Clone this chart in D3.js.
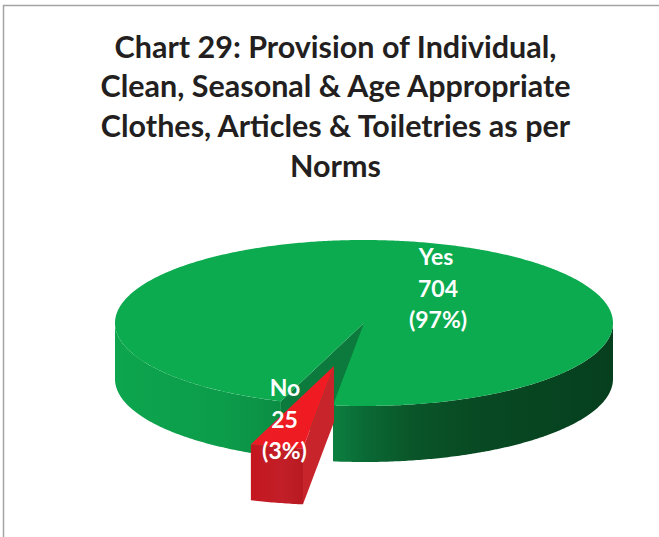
<!DOCTYPE html>
<html><head><meta charset="utf-8">
<script src="https://cdn.jsdelivr.net/npm/d3@7"></script>
<style>html,body{margin:0;padding:0;background:#fff}svg{display:block}</style>
</head><body><svg id="c" width="659" height="537"></svg>
<script>
const titleLines = ["Chart 29: Provision of Individual,","Clean, Seasonal & Age Appropriate","Clothes, Articles & Toiletries as per","Norms"];
const categories = ["Yes","No"];
const counts = [704,25];
const percents = ["(97%)","(3%)"];

const W=659,H=537,cx=364,cy=323,rx=249,ry=83,depth=56;
const explode={dx:-30,dy:43};
const startDeg=199.5;
const svg=d3.select("#c");
const defs=svg.append("defs");
function grad(id,x1,x2,stops){
  const g=defs.append("linearGradient").attr("id",id).attr("gradientUnits","userSpaceOnUse")
    .attr("x1",x1).attr("x2",x2).attr("y1",0).attr("y2",0);
  stops.forEach(s=>g.append("stop").attr("offset",s[0]).attr("stop-color",s[1]));
}
grad("gw",115,613,[[0,"#0da54e"],[0.22,"#0c9c4a"],[0.33,"#0b8e44"],[0.44,"#0c7f3f"],[0.5,"#0a6a35"],[0.6,"#0a5529"],[0.72,"#084a23"],[1,"#063f1e"]]);
grad("rw",250,303,[[0,"#c4161f"],[0.6,"#c21f28"],[1,"#b81a22"]]);
grad("rt",250,335,[[0,"#ed1c24"],[1,"#f01a22"]]);

svg.append("path").attr("d",`M3.5,${H}V5.5H${W}`).attr("fill","none").attr("stroke","#a3a3a3").attr("stroke-width",1.5);

const t=svg.append("g").attr("font-family","Lato,'Open Sans',sans-serif").attr("font-weight",700).attr("font-size",30.5).attr("fill","#231f20").attr("text-anchor","middle");
titleLines.forEach((l,i)=>t.append("text").attr("x",335.5).attr("y",57.5+i*39.9).text(l));

const pie=d3.pie().sort(null).startAngle(startDeg*Math.PI/180).endAngle((startDeg+360)*Math.PI/180);
const arcs=pie(counts);
const X=a=>cx+rx*Math.sin(a), Y=a=>cy-ry*Math.cos(a);
const line=d3.line();
const samples=(a0,a1)=>{const n=Math.max(2,Math.ceil(Math.abs(a1-a0)/0.01));return d3.range(n+1).map(i=>a0+(a1-a0)*i/n);};
const rimTop=(a0,a1,o={dx:0,dy:0})=>samples(a0,a1).map(a=>[X(a)+o.dx,Y(a)+o.dy]);
const wall=(a0,a1,o)=>{const top=rimTop(a0,a1,o);const bot=top.map(p=>[p[0],p[1]+depth]).reverse();return line(top.concat(bot))+"Z";};
const sector=(a0,a1,o={dx:0,dy:0})=>line([[cx+o.dx,cy+o.dy],...rimTop(a0,a1,o)])+"Z";
const rad=d=>d*Math.PI/180;

const yes=arcs[0],no=arcs[1];
const g=svg.append("g");
g.append("path").attr("d",wall(rad(90),no.startAngle%(2*Math.PI))).attr("fill","url(#gw)");
g.append("path").attr("d",wall(yes.startAngle,rad(270))).attr("fill","url(#gw)");
const ca=yes.startAngle;
g.append("path").attr("d",line([[cx,cy],[X(ca),Y(ca)],[X(ca),Y(ca)+depth],[cx,cy+depth]])+"Z").attr("fill","#0b7a3c");
g.append("path").attr("d",sector(yes.startAngle,yes.endAngle)).attr("fill","#0dab4f");
const r=svg.append("g");
const a0=no.startAngle,a1=no.endAngle;
const p=[X(a0)+explode.dx,Y(a0)+explode.dy];
r.append("path").attr("d",wall(a0,a1,explode)).attr("fill","url(#rw)");
r.append("path").attr("d",line([[cx+explode.dx,cy+explode.dy],p,[p[0],p[1]+depth],[cx+explode.dx,cy+explode.dy+depth]])+"Z").attr("fill","#c8242b");
r.append("path").attr("d",sector(a0,a1,explode)).attr("fill","url(#rt)");

const labels=svg.append("g").attr("font-family","Lato,'Open Sans',sans-serif").attr("font-weight",700).attr("font-size",23).attr("fill","#fff").attr("text-anchor","middle");
const anchors=[[436,265],[285,396]];
categories.forEach((c,i)=>{
  [c,String(counts[i]),percents[i]].forEach((s,j)=>labels.append("text").attr("x",anchors[i][0]+(j?2*(1-i)-i*0.5:0)).attr("y",anchors[i][1]+j*31.5).text(s));
});
</script></body></html>
